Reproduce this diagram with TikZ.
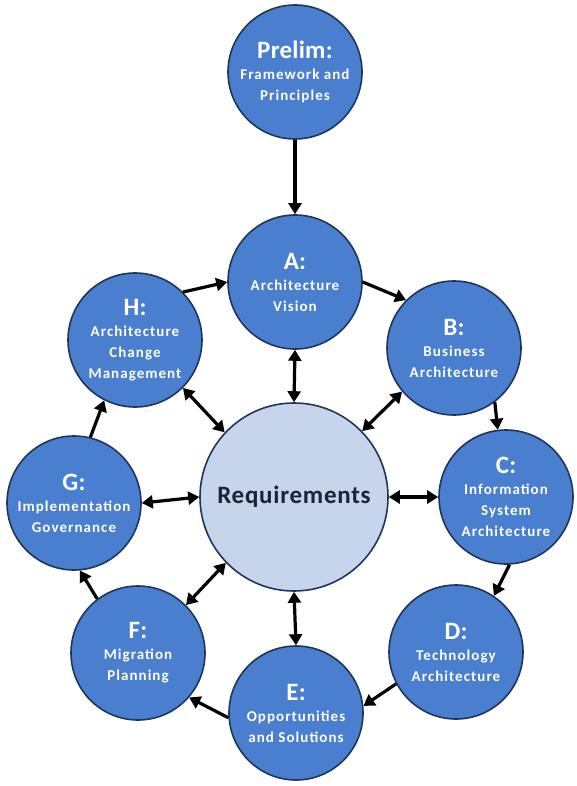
\documentclass[tikz,border=0pt]{standalone}
\usepackage{fontspec}
\setmainfont{Carlito}
\usetikzlibrary{arrows.meta}
\definecolor{phblue}{HTML}{4A7ECF}
\definecolor{outl}{HTML}{1F3559}
\definecolor{reqblue}{HTML}{C6D5EC}
\definecolor{reqtext}{HTML}{1C2333}
\newcommand\phsub{\bfseries\fontsize{15}{21}\selectfont\addfontfeature{LetterSpace=7}}
\newcommand\phtitle[1]{{\fontsize{25}{25}\selectfont\addfontfeature{LetterSpace=1}#1}}
\tikzset{
  phase/.style={circle, draw=outl, line width=1.6pt, fill=phblue, minimum size=134pt,
    inner sep=0pt, align=center, text=white, font=\phsub},
  reqnode/.style={circle, draw=outl, line width=1.6pt, fill=reqblue, minimum size=188pt,
    inner sep=0pt, text=reqtext, font=\bfseries\fontsize{25}{25}\selectfont\addfontfeature{LetterSpace=3}},
  flow/.style={line width=3.2pt, -{Triangle[length=11pt,width=13pt]}},
  both/.style={line width=3.2pt, {Triangle[length=11pt,width=13pt]}-{Triangle[length=11pt,width=13pt]}},
}
\begin{document}
\begin{tikzpicture}[x=1pt,y=-1pt]
\useasboundingbox[fill=white] (0,0) rectangle (577,786);
\node[phase] (P) at (295,72) {\phtitle{Prelim:}\\Framework and\\Principles};
\node[phase] (A) at (295,282) {\phtitle{A:}\\Architecture\\Vision};
\node[phase] (B) at (454,348) {\phtitle{B:}\\Business\\Architecture};
\node[phase] (C) at (506,497) {\phtitle{C:}\\Information\\System\\Architecture};
\node[phase] (D) at (456,652) {\phtitle{D:}\\Technology\\Architecture};
\node[phase] (E) at (296,713) {\phtitle{E:}\\Opportunities\\and Solutions};
\node[phase] (F) at (138,653) {\phtitle{F:}\\Migration\\Planning};
\node[phase] (G) at (74,503) {\phtitle{G:}\\Implementation\\Governance};
\node[phase] (H) at (135,340) {\phtitle{H:}\\Architecture\\Change\\Management};
\node[reqnode] (R) at (294,497) {Requirements};
% cycle
\draw[flow] (P.south) -- (A.north);
\draw[flow] (H.45) -- (A.west);
\draw[flow] (A.east) -- (B.135);
\draw[flow] (B.-53) -- (C.97);
\draw[flow] (C.-87) -- (D.56);
\draw[flow] (D.208) -- (E.6);
\draw[flow] (E.184) -- (F.-41);
\draw[flow] (F.127) -- (G.-85);
\draw[flow] (G.76) -- (H.-117);
% requirements links
\draw[both] (R.north) -- (A.south);
\draw[both] (R.44) -- (B.220);
\draw[both] (R.east) -- (C.west);
\draw[both] (R.south) -- (E.north);
\draw[both] (R.224) -- (F.45);
\draw[both] (R.west) -- (G.east);
\draw[both] (R.137) -- (H.-45);
\end{tikzpicture}
\end{document}
